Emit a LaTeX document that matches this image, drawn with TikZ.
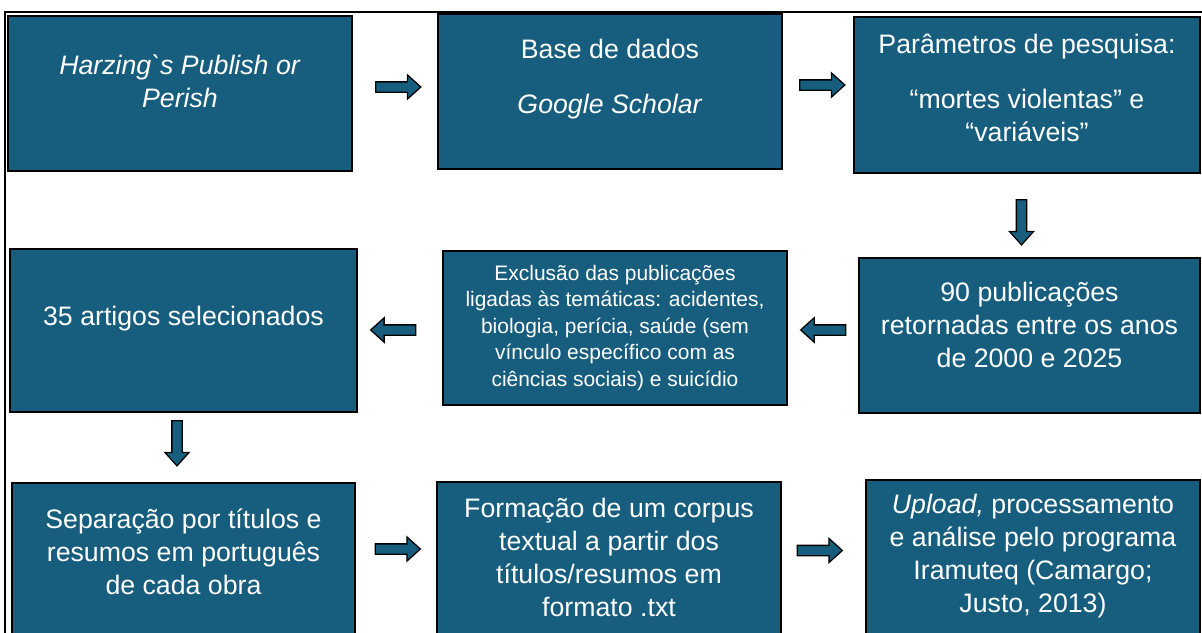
\documentclass[tikz,border=0pt]{standalone}
\usepackage{fontspec}
\setmainfont{Liberation Sans}
\usetikzlibrary{calc,positioning,shapes.arrows}

\definecolor{stagefill}{RGB}{23,94,126}

\tikzset{
  stage/.style={draw=black, line width=1.1pt, fill=stagefill, inner sep=0pt},
  stagetext/.style={text=white, align=center, inner sep=0pt, font=\fontsize{19}{23.5}\selectfont},
  smalltext/.style={stagetext, font=\fontsize{14.9}{18.8}\selectfont},
  flowarrow/.style={single arrow, draw=black, fill=stagefill, line width=0.9pt,
    inner xsep=0pt, inner ysep=0.1125cm, minimum height=1.125cm,
    single arrow head extend=0.175cm, single arrow tip angle=84}
}

\begin{document}
\begin{tikzpicture}[x=0.025cm, y=-0.025cm]
	\useasboundingbox (0,0) rectangle (1202,632);

	%frame
	\draw [line width=1.4pt] (5,640) -- (5,12) -- (1210,12);

	%first row
	\node [stage, minimum width=8.6cm, minimum height=3.875cm] (harzing) at (180,93.5) {};
	\node [stage, minimum width=8.6cm, minimum height=3.875cm] (base) at (610,91.5) {};
	\node [stage, minimum width=8.65cm, minimum height=3.9cm] (param) at (1027,95) {};

	%second row
	\node [stage, minimum width=8.675cm, minimum height=4.075cm] (art35) at (183.5,330.5) {};
	\node [stage, minimum width=8.6cm, minimum height=3.85cm] (excl) at (615,328) {};
	\node [stage, minimum width=8.525cm, minimum height=3.875cm] (n90) at (1029.5,335.5) {};

	%third row
	\node [stage, minimum width=8.575cm, minimum height=3.875cm] (sep) at (183.5,560.5) {};
	\node [stage, minimum width=8.6cm, minimum height=3.875cm] (form) at (609,559.5) {};
	\node [stage, minimum width=8.35cm, minimum height=3.875cm] (upload) at (1033,557.5) {};

	%texts
	\node [stagetext] (harzing-t) at ([yshift=0.3cm]harzing.center) {\textit{Harzing\textasciigrave s Publish or}\\\textit{Perish}};
	\node [stagetext] (base-t) at ([yshift=0.3cm]base.center) {Base de dados\\[0.55cm]\textit{Google Scholar}};
	\node [stagetext] (param-t) at ([yshift=0.175cm]param.center) {Parâmetros de pesquisa:\\[0.55cm]“mortes violentas” e\\“variáveis”};
	\node [stagetext] (n90-t) at ([yshift=0.2625cm]n90.center) {90 publicações\\retornadas entre os anos\\de 2000 e 2025};
	\node [smalltext] (excl-t) at (excl.center) {Exclusão das publicações\\ligadas às temáticas: acidentes,\\biologia, perícia, saúde (sem\\vínculo específico com as\\ciências sociais) e suicídio};
	\node [stagetext] (art35-t) at ([yshift=0.2875cm]art35.center) {35 artigos selecionados};
	\node [stagetext] (sep-t) at ([yshift=0.2125cm]sep.center) {Separação por títulos e\\resumos em português\\de cada obra};
	\node [stagetext] (form-t) at ([yshift=0.05cm]form.center) {Formação de um corpus\\textual a partir dos\\títulos/resumos em\\formato .txt};
	\node [stagetext] (upload-t) at ([yshift=0.0375cm]upload.center) {\textit{Upload,} processamento\\e análise pelo programa\\Iramuteq (Camargo;\\Justo, 2013)};

	%arrows
	\node [flowarrow] (a1) at (395.5,87) {};
	\node [flowarrow] (a2) at (819.5,85) {};
	\node [flowarrow, rotate=-90] (a3) at (1021.5,219.5) {};
	\node [flowarrow, rotate=180] (a4) at (826,330) {};
	\node [flowarrow, rotate=180] (a5) at (396,330) {};
	\node [flowarrow, rotate=-90] (a6) at (177,440.5) {};
	\node [flowarrow] (a7) at (395,549) {};
	\node [flowarrow] (a8) at (817,550.5) {};

\end{tikzpicture}
\end{document}
